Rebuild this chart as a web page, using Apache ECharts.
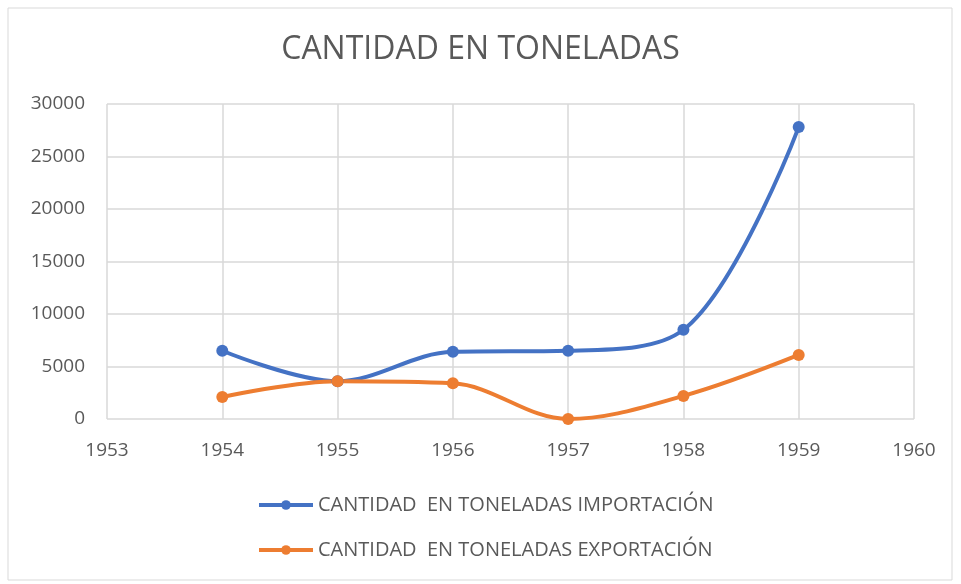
<!DOCTYPE html>
<html>
<head>
<meta charset="utf-8">
<script src="https://cdn.jsdelivr.net/npm/echarts@6/dist/echarts.min.js"></script>
<style>
  html, body { margin: 0; padding: 0; background: #fff; }
  #chart { width: 961px; height: 584px; }
</style>
</head>
<body>
<div id="chart"></div>
<script>
var years = [1954, 1955, 1956, 1957, 1958, 1959];
var importacion = [6500, 3600, 6400, 6500, 8500, 27800];
var exportacion = [2100, 3600, 3400, 0, 2200, 6100];
var seriesNames = [
  'CANTIDAD  EN TONELADAS IMPORTACIÓN',
  'CANTIDAD  EN TONELADAS EXPORTACIÓN'
];

function pairs(vals) {
  return years.map(function (y, i) { return [y, vals[i]]; });
}

var font = '"Open Sans", "Noto Sans", sans-serif';
var chart = echarts.init(document.getElementById('chart'));

chart.setOption({
  backgroundColor: '#fff',
  animation: false,
  title: {
    text: 'CANTIDAD EN TONELADAS',
    left: 'center',
    top: 29,
    textStyle: { fontFamily: font, fontSize: 32, fontWeight: 'normal', color: '#595959' }
  },
  graphic: [{
    type: 'rect',
    shape: { x: 8, y: 8, width: 944, height: 572 },
    style: { fill: 'none', stroke: '#d9d9d9', lineWidth: 1 },
    silent: true
  }],
  legend: {
    orient: 'vertical',
    left: 252,
    top: 490,
    itemGap: 25,
    itemWidth: 54,
    itemHeight: 12,
    lineStyle: { width: 4 },
    textStyle: { fontFamily: font, fontSize: 20, color: '#595959' },
    data: seriesNames
  },
  grid: { left: 107, right: 47, top: 104, bottom: 165 },
  xAxis: {
    type: 'value',
    min: 1953,
    max: 1960,
    interval: 1,
    axisLine: { show: false },
    axisTick: { show: false },
    axisLabel: {
      margin: 22,
      fontFamily: font, fontSize: 19, color: '#595959',
      formatter: function (v) { return String(v); }
    },
    splitLine: { show: true, lineStyle: { color: '#d9d9d9', width: 1.5 } }
  },
  yAxis: {
    type: 'value',
    min: 0,
    max: 30000,
    interval: 5000,
    axisLine: { show: false },
    axisTick: { show: false },
    axisLabel: {
      margin: 22,
      fontFamily: font, fontSize: 19, color: '#595959',
      formatter: function (v) { return String(v); }
    },
    splitLine: { show: true, lineStyle: { color: '#d9d9d9', width: 1.5 } }
  },
  series: [
    {
      name: seriesNames[0],
      type: 'line',
      smooth: 0.35,
      symbol: 'circle',
      symbolSize: 12,
      clip: false,
      itemStyle: { color: '#4472C4' },
      lineStyle: { color: '#4472C4', width: 4 },
      data: pairs(importacion)
    },
    {
      name: seriesNames[1],
      type: 'line',
      smooth: 0.35,
      symbol: 'circle',
      symbolSize: 12,
      clip: false,
      itemStyle: { color: '#ED7D31' },
      lineStyle: { color: '#ED7D31', width: 4 },
      data: pairs(exportacion)
    }
  ]
});
</script>
</body>
</html>
